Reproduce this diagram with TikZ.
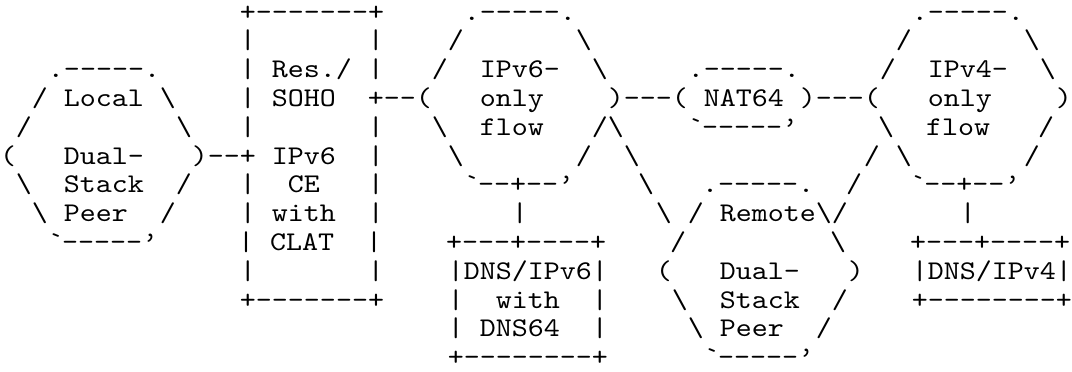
\documentclass[tikz,border=0pt]{standalone}
\usepackage{fontspec}
\newfontfamily\asciifont[Extension=.otf,FakeStretch=1.1291]{lmmono10-regular}
\newlength\colw
\setlength\colw{0.3cm}
\newcommand\gap[1]{\hspace*{#1\colw}}
\newcommand\bsl{\textbackslash}
\newcommand\grv{\textasciigrave}
\newcommand\apo{\textquoteright}
\tikzset{asciirow/.style={anchor=base west,inner sep=0pt,outer sep=0pt,text height=0.3cm,text depth=0cm,font={\asciifont\fontsize{14.4pt}{17pt}\selectfont}}}
\begin{document}
\begin{tikzpicture}[x=0.3cm,y=0.540cm]
\useasboundingbox (0,0.70) rectangle (67,-12.183);
\node[asciirow] (r0) at (0,0) {\gap{15}+-------+\gap{5}.-----.\gap{21}.-----.};
\node[asciirow] (r1) at (0,-1) {\gap{15}|\gap{7}|\gap{4}/\gap{7}\bsl\gap{19}/\gap{7}\bsl};
\node[asciirow] (r2) at (0,-2) {\gap{3}.-----.\gap{5}|\gap{1}Res./\gap{1}|\gap{3}/\gap{2}IPv6-\gap{2}\bsl\gap{5}.-----.\gap{5}/\gap{2}IPv4-\gap{2}\bsl};
\node[asciirow] (r3) at (0,-3) {\gap{2}/\gap{1}Local\gap{1}\bsl\gap{4}|\gap{1}SOHO\gap{2}+--(\gap{3}only\gap{4})---(\gap{1}NAT64\gap{1})---(\gap{3}only\gap{4})};
\node[asciirow] (r4) at (0,-4) {\gap{1}/\gap{9}\bsl\gap{3}|\gap{7}|\gap{3}\bsl\gap{2}flow\gap{3}/\bsl\gap{4}\grv-----\apo\gap{5}\bsl\gap{2}flow\gap{3}/};
\node[asciirow] (r5) at (0,-5) {(\gap{3}Dual-\gap{3})--+\gap{1}IPv6\gap{2}|\gap{4}\bsl\gap{7}/\gap{2}\bsl\gap{14}/\gap{1}\bsl\gap{7}/};
\node[asciirow] (r6) at (0,-6) {\gap{1}\bsl\gap{2}Stack\gap{2}/\gap{3}|\gap{2}CE\gap{3}|\gap{5}\grv--+--\apo\gap{4}\bsl\gap{3}.-----.\gap{2}/\gap{3}\grv--+--\apo};
\node[asciirow] (r7) at (0,-7) {\gap{2}\bsl\gap{1}Peer\gap{2}/\gap{4}|\gap{1}with\gap{2}|\gap{8}|\gap{8}\bsl\gap{1}/\gap{1}Remote\bsl/\gap{7}|};
\node[asciirow] (r8) at (0,-8) {\gap{3}\grv-----\apo\gap{5}|\gap{1}CLAT\gap{2}|\gap{4}+---+----+\gap{4}/\gap{9}\bsl\gap{4}+---+----+};
\node[asciirow] (r9) at (0,-9) {\gap{15}|\gap{7}|\gap{4}|DNS/IPv6|\gap{3}(\gap{3}Dual-\gap{3})\gap{3}|DNS/IPv4|};
\node[asciirow] (r10) at (0,-10) {\gap{15}+-------+\gap{4}|\gap{2}with\gap{2}|\gap{4}\bsl\gap{2}Stack\gap{2}/\gap{4}+--------+};
\node[asciirow] (r11) at (0,-11) {\gap{28}|\gap{1}DNS64\gap{2}|\gap{5}\bsl\gap{1}Peer\gap{2}/};
\node[asciirow] (r12) at (0,-12) {\gap{28}+--------+\gap{6}\grv-----\apo};
\end{tikzpicture}
\end{document}
